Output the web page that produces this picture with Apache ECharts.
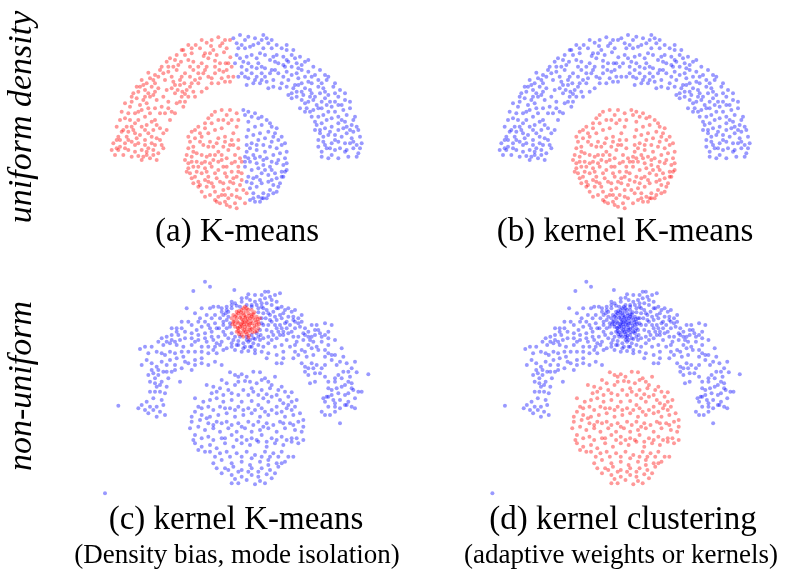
<!DOCTYPE html>
<html>
<head>
<meta charset="utf-8">
<script src="https://cdn.jsdelivr.net/npm/echarts@6/dist/echarts.min.js"></script>
<style>
  html, body { margin: 0; padding: 0; background: #fff; }
  #main { width: 793px; height: 573px; }
</style>
</head>
<body>
<div id="main"></div>
<script>
// uniform density data (panels a, b), x right, y down, arbitrary units
var uniArchL = [[340,22],[352,40],[345,48],[305,38],[272,45],[300,70],[296,78],[325,60],[357,67],[376,82],[362,100],[310,85],[330,92],[305,110],[343,120],[355,125],[330,130],[320,145],[350,145],[370,140],[385,140],[300,120],[290,100],[280,130],[265,120],[270,150],[260,160],[280,160],[255,170],[245,180],[238,160],[230,140],[220,105],[215,120],[200,140],[190,125],[175,130],[195,85],[210,90],[185,95],[170,110],[240,75],[250,90],[265,95],[232,185],[218,180],[210,190],[225,165],[200,175],[230,200],[240,192],[130,128],[110,150],[150,160],[140,170],[160,175],[120,180],[100,185],[95,205],[115,210],[135,200],[155,210],[175,200],[190,215],[170,230],[180,250],[200,245],[150,235],[130,235],[110,240],[100,245],[75,230],[60,265],[45,270],[75,270],[90,280],[110,290],[125,285],[140,275],[150,270],[165,295],[145,300],[120,300],[90,310],[70,305],[50,305],[35,330],[60,340],[80,335],[100,340],[120,330],[140,320],[155,325],[150,345],[130,355],[110,360],[90,365],[70,360],[45,350],[30,375],[55,375],[80,380],[100,378],[125,375],[145,375],[160,370],[135,385],[285,55],[318,48],[365,55],[375,30],[335,75],[260,70],[228,95],[205,110],[180,150],[160,140],[145,150],[125,160],[105,170],[85,190],[105,225],[125,220],[165,250],[190,235],[215,220],[225,215],[90,250],[65,290],[40,320],[85,300],[105,315],[130,310],[175,310],[165,330],[175,355],[120,345],[65,320],[20,360],[40,360],[110,390],[155,390],[365,120],[345,100],[315,70],[255,140],[285,145],[310,140],[265,185],[250,200],[295,130],[210,165],[185,180],[145,195],[120,200],[80,215],[70,250],[55,300],
  [290,30],[260,55],[235,60],[215,75],[190,110],[165,120],[150,135],[135,145],[115,165],[95,170],[80,200],[60,220],[50,245],[35,290],[25,340],[45,330],[70,330],[95,325],[140,340],[170,345],[185,300],[195,270],[210,250],[235,230],[240,215],[270,200],[290,185],[305,175],[320,160],[340,160],[360,155],[375,155],[380,110],[370,100],[330,110],[280,110],[255,110],[240,130],[225,150],[205,155],[150,185],[130,190],[120,260],[100,270],[80,290],[135,250],[155,285],[125,365],[60,355],[35,355],[90,345],[145,360],[115,380],[360,30],[320,30],[250,45],[230,60]];
var uniArchR = [[385,25],[405,15],[395,40],[410,45],[400,55],[420,55],[435,50],[445,45],[460,40],[470,30],[485,25],[490,40],[395,75],[390,100],[405,85],[415,95],[425,80],[440,75],[455,85],[465,70],[480,75],[495,90],[505,80],[515,75],[530,55],[545,60],[560,75],[535,80],[520,100],[510,120],[495,130],[480,115],[470,130],[485,155],[465,160],[450,150],[440,130],[425,120],[410,130],[400,140],[430,145],[455,115],[500,120],[550,95],[560,110],[575,100],[590,105],[590,120],[575,130],[560,135],[545,125],[535,140],[550,150],[580,145],[600,140],[610,155],[620,160],[640,150],[630,135],[660,135],[665,150],[640,170],[615,180],[600,175],[580,165],[565,175],[560,190],[550,195],[560,205],[575,200],[590,210],[600,220],[610,215],[625,210],[630,200],[645,190],[660,185],[670,195],[690,190],[700,200],[720,210],[710,225],[690,215],[680,230],[665,225],[650,215],[640,235],[625,240],[615,245],[605,235],[620,260],[640,260],[655,255],[670,245],[690,245],[715,240],[700,260],[680,265],[665,270],[650,280],[635,285],[630,300],[645,300],[660,295],[680,290],[700,280],[720,275],[740,285],[735,300],[745,305],[725,310],[710,320],[690,315],[670,315],[655,320],[640,330],[660,345],[680,340],[700,335],[720,340],[740,325],[755,345],[760,370],[745,355],[725,360],[705,355],[690,360],[665,355],[650,380],[680,375],[700,385],[730,380],[755,380],[420,30],[450,25],[500,55],[475,55],[430,100],[460,100],[520,130],[540,110],[570,85],[600,95],[610,125],[590,160],[530,160],[505,150],[455,140],[650,160],[685,170],[575,185],[595,195],[660,205],[700,225],[725,255],[745,270],[630,275],[675,305],[715,295],[640,350],[650,365],[735,340],[720,365],[765,355],[670,385],[600,245],[585,235],[620,190],[535,105],[480,140],[420,140],
  [430,20],[475,15],[500,30],[515,45],[545,45],[565,60],[585,80],[610,90],[625,110],[645,120],[670,140],[690,160],[705,180],[720,190],[735,215],[735,235],[750,260],[755,290],[765,320],[770,340],[745,335],[760,300],[700,300],[690,330],[675,355],[655,335],[645,310],[650,235],[635,225],[615,200],[590,185],[570,165],[545,170],[525,175],[505,170],[490,175],[470,150],[445,160],[425,165],[410,110],[440,110],[470,110],[510,95],[545,90],[580,115],[620,140],[655,175],[675,215],[710,270],[725,290]];
var uniCircL = [[330,245],[350,240],[365,255],[340,270],[320,280],[300,295],[280,290],[270,325],[255,335],[250,355],[265,350],[290,320],[310,310],[330,300],[350,295],[370,280],[380,270],[395,290],[385,310],[360,320],[340,325],[315,335],[295,345],[275,370],[260,380],[250,400],[265,410],[255,430],[270,440],[290,430],[280,410],[300,395],[315,375],[340,365],[355,350],[375,345],[400,355],[390,375],[365,385],[340,395],[320,410],[305,425],[300,450],[285,465],[305,470],[320,460],[330,485],[315,495],[340,500],[355,480],[345,455],[365,440],[380,425],[400,410],[395,440],[385,460],[370,475],[380,495],[360,515],[390,520],[405,505],[415,480],[405,465],[420,520],[410,430],[425,490],[395,250],[375,240],[400,270],[310,265],[285,310],[260,305],[245,375],[275,395],[325,350],[350,375],[380,330],[400,330],[405,385],[380,400],[355,410],[330,430],[280,455],[265,460],[290,485],[300,500],[345,520],[375,530],[330,510],[355,460],[385,445],[410,395],[395,480],[360,495],[310,440],[325,390],
  [320,255],[355,270],[300,280],[270,300],[250,320],[285,335],[310,350],[335,340],[360,335],[265,365],[290,375],[305,380],[240,390],[260,395],[290,400],[315,400],[350,390],[370,360],[330,375],[250,415],[245,425],[275,425],[300,415],[340,420],[365,410],[390,395],[385,345],[310,455],[335,445],[360,430],[375,455],[260,445],[280,470],[325,470],[350,495],[370,505],[395,500],[410,450],[400,425],[335,515],[395,535],[365,525]];
var uniCircR = [[415,240],[420,255],[440,260],[460,265],[485,270],[470,285],[450,290],[430,300],[425,320],[445,315],[465,310],[490,305],[510,310],[505,320],[520,330],[530,345],[515,355],[495,350],[475,345],[455,345],[435,355],[425,365],[445,375],[465,380],[485,385],[505,375],[525,370],[540,385],[535,405],[515,400],[495,410],[475,405],[455,400],[435,395],[440,420],[455,440],[470,430],[490,435],[510,430],[530,425],[535,440],[525,460],[505,465],[490,455],[470,460],[455,470],[445,490],[460,500],[475,490],[495,480],[520,470],[450,515],[465,515],[430,275],[500,290],[480,325],[460,330],[440,340],[545,365],[420,380],[420,410],[430,440],[440,460],[485,505],[505,490],[435,510],[530,440],[515,445],[545,420],[500,395],
  [430,245],[450,250],[470,260],[495,280],[515,295],[530,320],[540,340],[500,335],[480,365],[455,360],[430,385],[450,385],[475,390],[520,390],[545,400],[500,420],[480,420],[460,415],[445,445],[465,450],[500,450],[515,485],[490,495],[470,505],[445,505],[435,475],[425,455],[420,395],[425,345],[540,425],[475,505]];

// non-uniform density data (panels c, d)
var nonArch = [[330,20],[345,35],[295,48],[418,45],[70,392],[30,655],[820,298],[735,445],
  [440,70],[455,68],[465,75],[480,80],[495,75],[510,50],[520,50],[525,65],[540,60],[555,55],[500,95],[490,100],[470,90],[455,90],[435,95],[420,85],[410,100],[395,95],[380,100],[370,95],[355,95],[345,100],[320,100],[400,110],[385,120],[375,130],[395,135],[405,155],[395,160],[385,170],[410,175],[420,185],[435,185],[455,185],[470,180],[485,175],[495,165],[505,150],[500,130],[505,115],[520,115],[535,110],[550,100],[560,95],[570,105],[540,125],[525,135],[520,150],[540,150],[555,150],[570,145],[585,150],[600,140],[610,130],[620,120],[590,110],[580,125],[615,155],[630,160],[640,170],[650,150],[665,150],[670,165],[690,145],[710,150],[700,170],[680,185],[660,180],[640,185],[625,195],[610,185],[595,185],[580,175],[565,170],[555,180],[545,190],[530,195],[520,205],[505,215],[490,210],[475,205],[460,200],[445,205],[430,210],[420,225],[440,230],[460,228],[480,225],[500,230],[520,235],[545,240],[565,230],[585,215],[600,210],[620,225],[640,210],[655,200],[665,215],[680,200],[700,210],[720,195],[655,240],[635,245],[610,240],[595,250],[545,265],[515,250],[560,265],[565,250],
  [400,125],[405,145],[392,115],[490,112],[500,145],[497,180],[415,195],[480,192],[425,92],[505,100],[512,130],[515,165],[530,170],[545,160],[560,130],[575,160],[590,170],[385,150],[372,160],[360,120],[465,195],[450,215],[470,215],[430,198],[495,195],[530,90],[545,80],[515,85],[480,60],[460,58],[440,80],[410,80],[600,160],[605,200],[625,175],[645,195],[560,210],[540,215],[575,195],
  [410,90],[395,105],[380,110],[385,140],[390,180],[400,190],[410,205],[425,210],[455,195],[475,190],[490,185],[505,190],[520,185],[535,180],[550,170],[565,180],[560,160],[575,140],[595,135],[595,125],[610,145],[620,140],[630,180],[650,185],[660,165],[675,175],[690,180],[700,190],[515,105],[525,120],[530,140],[545,135],[555,120],[565,115],[580,100],[600,105],[470,95],[485,90],[500,85],[510,70],[500,60],[530,75],[545,100],[480,235],[465,215],[445,220],[410,215],[395,220],[380,200],[365,205],[350,185],[345,160],[330,140],[310,140],[290,150],[280,140],[260,140],[245,170],[230,195],[215,200],[240,200],[255,195],[300,200],[330,190],[355,225],[320,250],[300,270],[270,260],[240,270],[230,290],[215,290],[190,285],[170,285],[160,300],[165,320],[180,325],[195,330],[210,355],[175,370],[165,395],[195,410],[140,390],[630,230],[650,220],[670,225],[690,225],[700,235],[710,255],[690,270],[680,280],[655,280],[640,280],[725,270],[735,260],[760,290],[765,305],[750,330],[740,335],[725,340],[710,345],[700,340],[735,400],[715,375],[705,420],[760,380],
  [275,100],[300,115],[315,130],[335,120],[350,130],[360,145],[340,150],[320,155],[305,165],[290,175],[310,180],[330,175],[350,170],[365,160],[370,185],[355,195],[335,200],[310,195],[290,190],[270,190],[250,180],[230,160],[245,160],[260,160],[270,170],[230,180],[215,185],[200,190],[190,200],[205,210],[225,205],[245,210],[265,215],[290,210],[300,230],[320,215],[340,215],[360,215],[375,210],[385,225],[365,235],[340,235],[320,230],[280,230],[260,230],[240,235],[225,230],[210,240],[200,235],[185,230],[170,215],[150,215],[135,222],[160,235],[155,255],[140,270],[170,265],[185,275],[200,260],[215,270],[225,255],[245,250],[265,245],[280,265],[300,255],[320,265],[340,270],[360,260],[380,270],[290,285],[260,280],[240,285],[205,290],[190,300],[175,295],[180,310],[200,320],[220,310],[255,320],[185,335],[215,335],[195,350],[180,350],[165,350],[200,375],[205,390],[185,395],[155,380],[130,400],[150,405],[160,415],[175,405],[185,425],[210,420],
  [600,230],[620,265],[630,275],[650,265],[665,270],[690,245],[710,240],[720,240],[740,220],[745,245],[755,265],[780,260],[770,280],[745,290],[730,300],[720,310],[700,320],[690,305],[675,295],[660,295],[640,300],[630,290],[720,320],[740,310],[760,320],[770,325],[775,345],[790,350],[800,350],[770,340],[760,355],[750,360],[730,355],[710,360],[695,365],[685,370],[690,380],[700,365],[720,385],[735,375],[750,390],[770,395],[780,400],[720,395],[720,410],[700,395],[680,410],[690,420],[755,390],[780,370],[785,292],[660,320],[645,325]];
var nonBlob = [[440,105],[455,100],[470,105],[430,115],[445,115],[460,115],[475,118],[485,125],[420,125],[435,128],[450,128],[465,130],[480,135],[490,140],[415,140],[428,140],[442,142],[458,142],[472,145],[485,150],[420,155],[435,155],[450,155],[465,158],[478,160],[430,168],[445,170],[460,170],[472,172],[440,180],[455,178],[425,130],[445,135],[470,125],[410,130],[490,160],[455,162],[438,148],[462,150],[448,120],[478,112],[420,148],[495,130],[432,178],[462,182],[450,95],[452,108],[438,122],[468,138],[442,160],[428,158],[483,142],[458,132],[447,148],[415,120],[486,168],[470,162],[425,170],
  [445,100],[460,104],[432,108],[425,120],[452,125],[462,122],[475,128],[440,132],[455,138],[430,145],[448,142],[466,146],[478,152],[440,152],[456,150],[430,160],[448,165],[465,165],[480,170],[452,172],[418,138],[488,132],[445,185],[460,188],[435,172],[470,118],[438,112],[492,148],[412,148],[425,110]];
var nonCirc = [[405,292],[420,300],[440,298],[455,305],[475,290],[495,292],[510,310],[540,305],[380,315],[395,325],[430,320],[465,320],[485,325],[520,320],
  [335,330],[355,335],[375,340],[400,345],[420,330],[445,345],[470,340],[500,345],[525,340],[550,345],[570,350],[590,352],[350,355],[430,360],[460,360],[490,360],[515,358],[545,360],[580,365],
  [300,370],[325,380],[345,375],[365,370],[385,380],[410,375],[440,380],[470,378],[490,390],[520,380],[545,395],[565,385],[590,380],[605,375],[310,395],[340,395],[375,395],[405,400],[430,395],[460,400],[500,400],[530,405],[575,400],
  [300,410],[320,420],[345,425],[370,420],[395,415],[420,425],[445,420],[470,415],[495,425],[520,420],[545,415],[570,425],[595,420],[615,415],[625,435],[290,440],[315,435],[340,445],[365,440],[395,440],[430,445],[460,440],[490,440],[515,445],[555,440],[585,445],[610,440],
  [285,460],[310,455],[330,465],[355,460],[375,470],[400,460],[425,470],[450,460],[470,470],[495,465],[520,460],[545,470],[570,460],[600,465],[620,470],[300,480],[340,485],[380,490],[410,480],[440,485],[470,490],[500,480],[530,490],[560,485],[590,490],[625,495],
  [300,505],[320,515],[345,510],[365,520],[390,505],[415,515],[440,505],[465,510],[490,500],[515,515],[540,505],[565,510],[590,500],[610,505],[330,530],[360,545],[395,530],[425,535],[455,530],[480,540],[510,530],[535,535],[560,530],[580,545],
  [355,565],[380,555],[410,565],[440,560],[465,570],[495,560],[520,555],[545,565],[570,560],[595,545],[390,580],[415,575],[440,585],[470,580],[500,580],[525,585],[550,575],
  [380,595],[410,600],[440,605],[470,600],[490,605],[515,598],[540,595],[410,625],[430,625],[480,628],[510,625],[530,610],
  [430,305],[450,318],[500,315],[530,330],[560,335],[365,350],[385,360],[410,355],[475,350],[505,370],[530,365],[555,375],[580,390],[600,395],[320,400],[355,405],[390,400],[420,405],[445,405],[480,405],[510,410],[560,410],[590,405],[290,425],[335,430],[355,450],[380,445],[410,450],[440,455],[475,450],[505,455],[535,450],[565,445],[595,450],[625,455],[295,495],[320,490],[355,495],[390,490],[425,495],[455,495],[485,495],[515,500],[545,495],[575,495],[605,490],[310,525],[345,530],[375,535],[405,545],[440,545],[470,550],[500,545],[525,545],[550,545],[365,580],[400,585],[430,590],[460,590],[490,590],[520,570],[560,565],[455,615],[495,618],[420,612]];

var panelTitles = ['(a) K-means', '(b) kernel K-means', '(c) kernel K-means', '(d) kernel clustering'];
var panelNotes = ['(Density bias, mode isolation)', '(adaptive weights or kernels)'];
var rowLabels = ['uniform density', 'non-uniform'];

var RED = 'rgba(255,0,0,0.5)';
var BLUE = 'rgba(0,0,255,0.5)';

var chart = echarts.init(document.getElementById('main'));

function dots(idx, data, color) {
    return {
        type: 'scatter',
        xAxisIndex: idx,
        yAxisIndex: idx,
        data: data,
        symbolSize: 4,
        silent: true,
        itemStyle: { color: color }
    };
}

var grids = [
    { left: 105, top: 30, width: 270, height: 185 },
    { left: 493, top: 30, width: 270, height: 185 },
    { left: 95, top: 275, width: 330, height: 225 },
    { left: 483, top: 275, width: 330, height: 225 }
];
var xAxes = [], yAxes = [];
for (var i = 0; i < 4; i++) {
    var w = i < 2 ? 810 : 990, h = i < 2 ? 555 : 675;
    xAxes.push({ gridIndex: i, type: 'value', min: 0, max: w, show: false });
    yAxes.push({ gridIndex: i, type: 'value', min: 0, max: h, inverse: true, show: false });
}

var serif = '"Liberation Serif", "Times New Roman", serif';
function label(text, x, y, size, rot, italic) {
    return {
        type: 'text', x: x, y: y, rotation: rot || 0,
        style: {
            text: text, fill: '#000',
            font: (italic ? 'italic ' : '') + size + 'px ' + serif,
            align: 'center', verticalAlign: 'middle'
        }
    };
}

chart.setOption({
    animation: false,
    backgroundColor: '#fff',
    grid: grids,
    xAxis: xAxes,
    yAxis: yAxes,
    series: [
        dots(0, uniArchL, RED), dots(0, uniCircL, RED),
        dots(0, uniArchR, BLUE), dots(0, uniCircR, BLUE),
        dots(1, uniArchL.concat(uniArchR), BLUE),
        dots(1, uniCircL.concat(uniCircR), RED),
        dots(2, nonArch, BLUE), dots(2, nonCirc, BLUE), dots(2, nonBlob, RED),
        dots(3, nonArch.concat(nonBlob), BLUE), dots(3, nonCirc, RED)
    ],
    graphic: [
        label(panelTitles[0], 237, 232, 33),
        label(panelTitles[1], 625, 232, 33),
        label(panelTitles[2], 236, 520, 33),
        label(panelTitles[3], 623, 520, 33),
        label(panelNotes[0], 237, 556, 27),
        label(panelNotes[1], 621, 556, 27),
        label(rowLabels[0], 22, 117, 34, Math.PI / 2, true),
        label(rowLabels[1], 22, 386, 34, Math.PI / 2, true)
    ]
});
</script>
</body>
</html>
